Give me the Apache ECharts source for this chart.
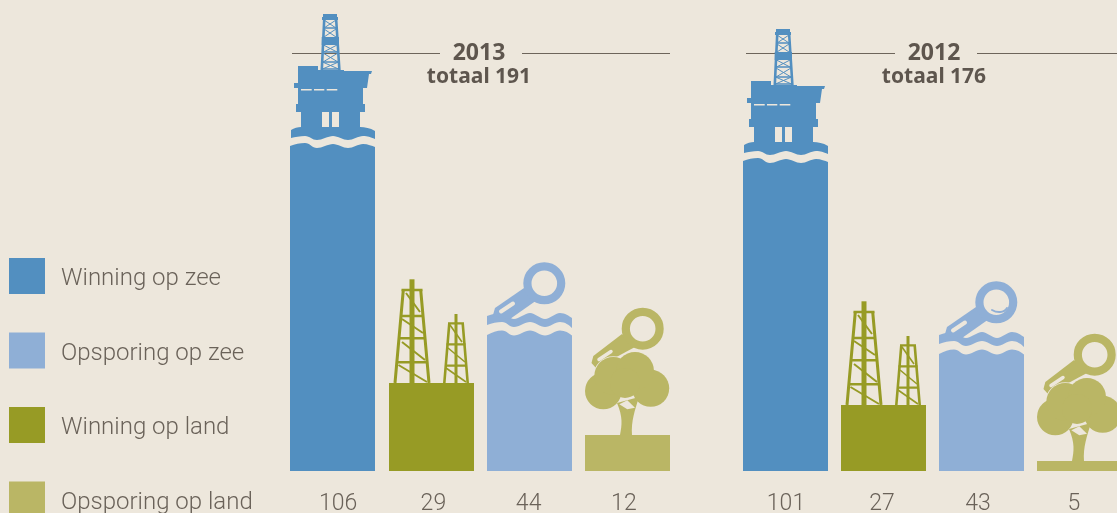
<!DOCTYPE html>
<html>
<head>
<meta charset="utf-8">
<title>Boringen 2013 en 2012</title>
<script src="https://cdn.jsdelivr.net/npm/echarts@6/dist/echarts.min.js"></script>
<style>
  html, body { margin: 0; padding: 0; width: 1117px; height: 513px; background: #ede7dc; overflow: hidden; }
  /* the last 2012 bar and the last legend square run off the picture, so the canvas is a bit bigger */
  #chart { width: 1140px; height: 540px; }
</style>
</head>
<body>
<div id="chart"></div>
<script>
const types = ["Winning op zee", "Opsporing op zee", "Winning op land", "Opsporing op land"];
const typeColors = ["#528fc0", "#8fafd6", "#979b25", "#bab665"];
const kinds = ["rig", "derricks", "lens", "tree"];
const barColors = [typeColors[0], typeColors[2], typeColors[1], typeColors[3]];
const barNames = [types[0], types[2], types[1], types[3]];

const years = ["2013", "2012"];
const totals = [191, 176];

// numbers printed under the bars
const printed2013 = [106, 29, 44, 12];
const printed2012 = [101, 27, 43, 5];
// bar lengths; the small 2012 bars are drawn shorter than their printed numbers
const lengths2013 = [106, 29, 44, 12];
const lengths2012 = [101, 21.7, 37.5, 3.3];

const bg = "#ede7dc";
const textColor = "#5e564e";
const barWidth = 85;

function fillPath(d, color) {
  return { type: "path", shape: { pathData: d }, style: { fill: color } };
}
function linePath(d, color, w) {
  return { type: "path", shape: { pathData: d }, style: { fill: "none", stroke: color, lineWidth: w } };
}

// all icons are in pixels from the top left corner of their bar
function rigIcon(c) {
  return [
    fillPath("M0,2 L0,-4 C5,-6 10,-7 15,-7 C20,-7 22,-2 27,-2 C32,-2 38,-6 43,-6 C48,-6 53,-2 58,-2 C63,-2 68,-6 73,-6 C78,-6 82,-4 85,-3 L85,2 Z", c),
    fillPath("M1,-12 L1,-20 C4,-22 8,-23 11,-23 L70,-23 C75,-23 80,-22 85,-19 L85,-11 C80,-13 78,-14 73,-14 C68,-14 63,-10 58,-10 C53,-10 48,-14 43,-14 C38,-14 32,-10 27,-10 C22,-10 20,-14 15,-14 C10,-14 5,-13 1,-12 Z", c),
    fillPath("M11,-38 L32,-38 L32,-21 L11,-21 Z M39,-38 L42,-38 L42,-21 L39,-21 Z M49,-38 L70,-38 L70,-21 L49,-21 Z", c),
    fillPath("M8,-84 L28,-84 L28,-80 L54,-80 L54,-79 L82,-79 L81,-76 L79,-76 L77,-62 L73,-62 L73,-46 L75,-46 L75,-38 L6,-38 L6,-46 L8,-46 L8,-62 L4,-62 L4,-67 L8,-67 Z", c),
    fillPath("M11,-61 L21.7,-61 L21.7,-59.5 L11,-59.5 Z M24,-61 L34.3,-61 L34.3,-59.5 L24,-59.5 Z M36.7,-61 L47.3,-61 L47.3,-59.5 L36.7,-59.5 Z", bg),
    fillPath("M33,-136 L47,-136 L47,-133 L48,-133 L48,-130 L32,-130 L32,-133 L33,-133 Z M31.7,-113 L49,-113 L49,-105 L31.7,-105 Z", c),
    linePath("M34.2,-130 L31.8,-80 M46.2,-130 L49.4,-80", c, 2.6),
    linePath("M34,-122 L46.5,-122 M33,-98 L47.5,-98 M32.5,-88 L48,-88 M32,-81 L49,-81", c, 1.4),
    linePath("M34,-130 L46,-122 M46,-130 L34,-122 M34,-121 L46,-113 M46,-121 L34,-113 M33.5,-105 L47,-98 M47,-105 L33.5,-98 M33,-97 L48,-88 M48,-97 L33,-88 M32.5,-88 L48.5,-81 M48.5,-88 L32.5,-81", c, 1)
  ];
}

function derricksIcon(c) {
  return [
    linePath("M14.3,-93 L6,0 M31.7,-93 L40,0", c, 3),
    linePath("M23,-103.7 L23,0", c, 5),
    linePath("M12.5,-93 L33.5,-93 M12,-67 L34,-67 M9.5,-44.7 L36.5,-44.7 M7.5,-20.7 L38.5,-20.7", c, 2.6),
    linePath("M17,-90 L31,-71 M13,-64 L34,-50 M13,-41 L36,-23 M9.5,-18 L38,-1", c, 2),
    linePath("M60.3,-59.7 L55.3,0 M73.7,-59.7 L78.7,0", c, 2.6),
    linePath("M67,-69 L67,0", c, 3),
    linePath("M59,-59.7 L75,-59.7 M57.5,-38.7 L76.5,-38.7 M56.5,-17.3 L77.5,-17.3", c, 2.2),
    linePath("M61,-58 L73,-41 M59,-35 L76,-21 M57,-15 L77,-1", c, 1.6)
  ];
}

function lensParts(c, cx, cy) {
  return [
    { type: "circle", shape: { cx: cx, cy: cy, r: 16.9 }, style: { fill: "none", stroke: c, lineWidth: 8.2 } }
  ];
}

function lensIcon(c, yearIdx) {
  const parts = [
    fillPath("M0,1 L0,-3 C5,-5.5 10,-7.5 15,-7.5 C20,-7.5 22,-2.5 27,-2.5 C32,-2.5 38,-7.5 43,-7.5 C48,-7.5 53,-2.5 58,-2.5 C63,-2.5 68,-7.5 73,-7.5 C78,-7.5 82,-5 85,-2.5 L85,1 Z", c),
    fillPath("M0,-13 L0,-22 C5,-24 10,-25 15,-25 C20,-25 22,-19 27,-19 C32,-19 38,-25 43,-25 C48,-25 53,-19 58,-19 C63,-19 68,-25 73,-25 C78,-25 82,-22 85,-20 L85,-10 C82,-13 78,-16 73,-16 C68,-16 63,-11 58,-11 C53,-11 48,-16 43,-16 C38,-16 32,-11 27,-11 C22,-11 20,-16 15,-16 C10,-16 5,-15 0,-13 Z", c),
    fillPath("M37,-50 L8,-30 L5.7,-22 L23,-19 L50,-38 Z", c),
    { type: "path", shape: { pathData: "M14,-26.5 L26,-34.5" }, style: { fill: "none", stroke: bg, lineWidth: 4, lineCap: "round" } }
  ].concat(lensParts(c, 57.3, -54.7));
  if (yearIdx === 1) {
    parts.push({ type: "path", shape: { pathData: "M53,-47 C58,-44 65,-44 68,-49" }, style: { fill: "none", stroke: c, lineWidth: 2, lineCap: "round" } });
  }
  return parts;
}

function treeIcon(c) {
  function circle(cx, cy, r, edge) {
    return { type: "circle", shape: { cx: cx, cy: cy, r: r }, style: edge ? { fill: c, stroke: bg, lineWidth: 1.5 } : { fill: c } };
  }
  return [
    fillPath("M37,-101 L8.3,-79 L6.5,-72 L11,-67 L50,-88 Z", c),
    { type: "path", shape: { pathData: "M14,-75.5 L26,-83.5" }, style: { fill: "none", stroke: bg, lineWidth: 3.5, lineCap: "round" } }
  ].concat(lensParts(c, 57.7, -106.3)).concat([
    circle(28.3, -59, 19, true),
    circle(50, -64, 19, true),
    circle(18.3, -44, 18.3),
    circle(65.7, -46.7, 18.5),
    circle(28.3, -59, 19),
    circle(50, -64, 19),
    circle(40, -52, 15),
    fillPath("M35,0 C37,-10 38,-18 32,-32 L54,-38 C50,-25 46,-14 47,0 Z", c),
    fillPath("M42.3,-34.7 L50,-27.3 L42.3,-25.7 L34.3,-30.7 Z", bg)
  ]);
}

function makeRenderer(kind, color, yearIdx) {
  return function (params, api) {
    const i = api.value(0);
    const top = api.coord([i, api.value(1)]);
    const bottom = api.coord([i, 0]);
    const left = Math.round(top[0] - barWidth / 2);
    const topY = Math.round(top[1]);
    let icon = [];
    if (kind === "rig") icon = rigIcon(color);
    if (kind === "derricks") icon = derricksIcon(color);
    if (kind === "lens") icon = lensIcon(color, yearIdx);
    if (kind === "tree") icon = treeIcon(color);
    return {
      type: "group",
      children: [
        { type: "rect", shape: { x: left, y: topY, width: barWidth, height: bottom[1] - topY }, style: { fill: color } },
        { type: "group", x: left, y: topY, children: icon }
      ]
    };
  };
}

const series = [];
[lengths2013, lengths2012].forEach(function (lengths, y) {
  lengths.forEach(function (len, i) {
    series.push({
      name: barNames[i],
      type: "custom",
      xAxisIndex: y,
      yAxisIndex: y,
      clip: false,
      silent: true,
      itemStyle: { color: barColors[i] },
      encode: { x: 0, y: 1 },
      data: [[i, len]],
      renderItem: makeRenderer(kinds[i], barColors[i], y)
    });
  });
});

function hiddenCategory(gridIndex) {
  return { gridIndex: gridIndex, type: "category", data: [0, 1, 2, 3], show: false };
}
function labelCategory(gridIndex, labels) {
  return {
    gridIndex: gridIndex,
    type: "category",
    data: labels.map(String),
    axisLine: { show: false },
    axisTick: { show: false },
    axisLabel: {
      interval: 0,
      margin: 22,
      color: "#6a6259",
      fontFamily: "Roboto",
      fontWeight: 300,
      fontSize: 23
    }
  };
}
function valueAxis(gridIndex, max) {
  return { gridIndex: gridIndex, type: "value", min: 0, max: max, show: false };
}
function yearTitle(idx, centre) {
  return {
    text: "{y|" + years[idx] + "}\n{t|totaal " + totals[idx] + "}",
    left: centre,
    top: 41,
    textAlign: "center",
    padding: 0,
    textStyle: {
      color: textColor,
      fontFamily: "Noto Sans",
      fontWeight: "bold",
      rich: {
        y: { color: textColor, fontFamily: "Noto Sans", fontWeight: "bold", fontSize: 23, lineHeight: 24 },
        t: { color: textColor, fontFamily: "Noto Sans", fontWeight: "bold", fontSize: 21, lineHeight: 24 }
      }
    }
  };
}
function rule(x1, x2) {
  return {
    type: "line",
    silent: true,
    z: 0,
    shape: { x1: x1, y1: 53.5, x2: x2, y2: 53.5 },
    style: { stroke: "#6d655b", lineWidth: 1 }
  };
}

const chart = echarts.init(document.getElementById("chart"));
chart.setOption({
  backgroundColor: bg,
  animation: false,
  title: [yearTitle(0, 479), yearTitle(1, 934)],
  legend: {
    orient: "vertical",
    left: 9,
    top: 258,
    padding: 0,
    itemWidth: 36,
    itemHeight: 36,
    itemGap: 38.5,
    selectedMode: false,
    icon: "rect",
    formatter: function (name) {
      return "{a|" + name + "}";
    },
    textStyle: {
      color: "#6a6259",
      fontFamily: "Roboto",
      fontWeight: 300,
      fontSize: 24,
      rich: {
        a: {
          color: "#6a6259",
          fontFamily: "Roboto",
          fontWeight: 300,
          fontSize: 24,
          padding: [6, 0, 0, 11]
        }
      }
    },
    data: types.map(function (t, i) {
      return { name: t, itemStyle: { color: typeColors[i], borderWidth: 0 } };
    })
  },
  grid: [
    { left: 283.8, top: 0, width: 393, height: 471 },
    { left: 736.5, top: 0, width: 392, height: 471 },
    { left: 290.5, top: 0, width: 381, height: 471 },
    { left: 738, top: 0, width: 384, height: 471 }
  ],
  xAxis: [
    hiddenCategory(0),
    hiddenCategory(1),
    labelCategory(2, printed2013),
    labelCategory(3, printed2012)
  ],
  yAxis: [valueAxis(0, 155.5), valueAxis(1, 155.5), valueAxis(2, 1), valueAxis(3, 1)],
  graphic: [rule(292, 440), rule(522, 670), rule(746, 895), rule(977, 1117)],
  series: series
});
</script>
</body>
</html>
